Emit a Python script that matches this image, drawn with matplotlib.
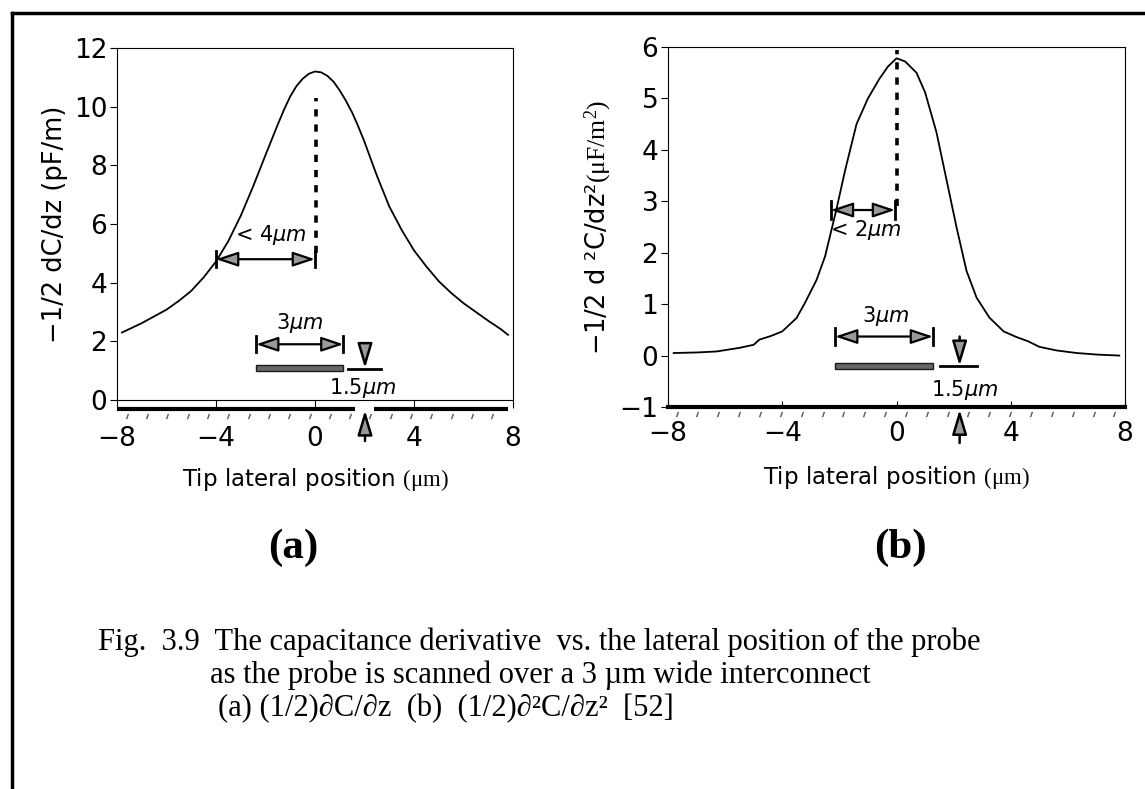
import numpy as np
import matplotlib
matplotlib.use('Agg')
import matplotlib.pyplot as plt
from matplotlib.lines import Line2D
from matplotlib.patches import Rectangle

plt.rcParams['font.family'] = ['DejaVu Sans']
plt.rcParams['mathtext.fontset'] = 'custom'
plt.rcParams['mathtext.rm'] = 'Liberation Serif'
plt.rcParams['mathtext.it'] = 'DejaVu Sans:italic'
plt.rcParams['mathtext.bf'] = 'DejaVu Sans:bold'

# (a) first derivative
xa = [-7.8, -7, -6.5, -6, -5.5, -5, -4.5, -4, -3.5, -3, -2.5, -2, -1.5, -1.25, -1, -0.75,
      -0.5, -0.25, 0, 0.25, 0.5, 0.75, 1, 1.25, 1.5, 1.75, 2, 2.25, 2.5, 3, 3.5, 4, 4.5,
      5, 5.5, 6, 6.5, 7, 7.5, 7.8]
ya = [2.30, 2.62, 2.85, 3.08, 3.38, 3.72, 4.18, 4.72, 5.42, 6.28, 7.28, 8.35, 9.4, 9.9,
      10.35, 10.7, 10.95, 11.12, 11.2, 11.17, 11.05, 10.85, 10.55, 10.2, 9.8, 9.32, 8.8,
      8.22, 7.65, 6.6, 5.8, 5.1, 4.55, 4.05, 3.65, 3.3, 3.0, 2.7, 2.42, 2.22]

# (b) second derivative
xb = [-7.8, -7, -6.3, -5.5, -5, -4.8, -4.4, -4, -3.5, -3.2, -2.8, -2.5, -2.1, -1.8, -1.4,
      -1, -0.6, -0.3, 0, 0.3, 0.7, 1, 1.4, 1.75, 2.1, 2.45, 2.8, 3.25, 3.75, 4.2, 4.6, 5,
      5.6, 6.3, 7, 7.8]
yb = [0.05, 0.06, 0.08, 0.15, 0.21, 0.31, 0.38, 0.47, 0.73, 1.03, 1.47, 1.93, 2.85, 3.6,
      4.5, 5.0, 5.38, 5.62, 5.78, 5.72, 5.5, 5.12, 4.34, 3.42, 2.5, 1.65, 1.13, 0.74,
      0.47, 0.36, 0.28, 0.17, 0.1, 0.05, 0.02, 0.0]

xticks = [-8, -4, 0, 4, 8]
yticks_a = [0, 2, 4, 6, 8, 10, 12]
yticks_b = [-1, 0, 1, 2, 3, 4, 5, 6]

# annotation geometry (data units)
peak_a, peak_b = 0.05, 0.0
width_a = (-4.0, 0.0, 4.8)          # x0, x1, y of "< 4um" arrow
width_b = (-2.3, -0.05, 2.83)
line_a = (-2.38, 1.15, 1.9, 1.08)   # x0, x1, arrow y, interconnect y
line_b = (-2.15, 1.28, 0.37, -0.2)
tip_a = (1.35, 2.66, 2.02)          # tip line x0, x1, arrow x
tip_b = (1.51, 2.82, 2.21)

W, H = 1145, 789
fig = plt.figure(figsize=(W / 100, H / 100), dpi=100)


def px_axes(l, t, r, b):
    return fig.add_axes([l / W, 1 - b / H, (r - l) / W, (b - t) / H])


ax_a = px_axes(117, 48, 513, 400)
ax_b = px_axes(668, 47, 1125, 407)

GRAY = '0.6'
TICK_FS = 19
NOTE_FS = 15


def span_arrow(ax, x0, x1, y, h):
    ax.annotate('', xy=(x1, y), xytext=(x0, y),
                arrowprops=dict(arrowstyle='<|-|>,head_length=0.9,head_width=0.3',
                                fc=GRAY, ec='black', lw=1.6, shrinkA=0, shrinkB=0,
                                mutation_scale=15))
    ax.plot([x0, x0], [y - h, y + h], 'k', lw=2)
    ax.plot([x1, x1], [y - h, y + h], 'k', lw=2)


def vert_arrow(ax, x, y0, y1, clip=True):
    ax.annotate('', xy=(x, y1), xytext=(x, y0), annotation_clip=clip,
                arrowprops=dict(arrowstyle='-|>,head_length=1.0,head_width=0.3',
                                fc=GRAY, ec='black', lw=1.8, shrinkA=0, shrinkB=0,
                                mutation_scale=15))


# ---- panel (a)
ax = ax_a
ax.plot(xa, ya, 'k', lw=1.3)
ax.set_xlim(-8, 8)
ax.set_ylim(0, 12)
ax.plot([peak_a, peak_a], [5.0, 10.3], 'k', lw=2.6, dashes=(2, 2.2))
span_arrow(ax, width_a[0], width_a[1], width_a[2], 0.28)
ax.text(-1.78, 5.63, '< 4$\\mu m$', ha='center', va='center', fontsize=NOTE_FS)
span_arrow(ax, line_a[0], line_a[1], line_a[2], 0.28)
ax.text(-0.61, 2.62, '3$\\mu m$', ha='center', va='center', fontsize=NOTE_FS)
ax.add_patch(Rectangle((line_a[0], line_a[3] - 0.1), line_a[1] - line_a[0], 0.2,
                       fc='0.4', ec='0.1', lw=1))
ax.plot([tip_a[0], tip_a[1]], [1.05, 1.05], 'k', lw=2)
vert_arrow(ax, tip_a[2], 1.94, 1.08)
ax.text(1.93, 0.4, '1.5$\\mu m$', ha='center', va='center', fontsize=NOTE_FS)
# substrate bar with a gap under the probe, and its hatching
ax.plot([-8, 1.6], [-0.3, -0.3], 'k', lw=3, clip_on=False, solid_capstyle='butt')
ax.plot([2.4, 7.8], [-0.3, -0.3], 'k', lw=3, clip_on=False, solid_capstyle='butt')
hx = np.arange(-7.6, 7.9, 0.82)
ax.plot(hx, np.full(len(hx), -0.55), ls='none', marker=(2, 0, -20), ms=4,
        mec='0.35', mew=1, clip_on=False)
vert_arrow(ax, tip_a[2], -1.4, -0.35, clip=False)
ax.set_xticks(xticks)
ax.set_xticklabels(['\u22128', '\u22124', '0', '4', '8'])
ax.set_yticks(yticks_a)
ax.tick_params(axis='x', direction='out', length=6, pad=13, labelsize=TICK_FS)
ax.tick_params(axis='y', direction='out', length=5, pad=2, labelsize=TICK_FS)
ax.set_ylabel('\u22121/2 dC/dz (pF/m)', fontsize=18.5, labelpad=4)
ax.set_xlabel('Tip lateral position $\\mathrm{(\\mu m)}$', fontsize=16.5, labelpad=10)

# ---- panel (b)
ax = ax_b
ax.plot(xb, yb, 'k', lw=1.3)
ax.set_xlim(-8, 8)
ax.set_ylim(-1, 6)
ax.plot([peak_b, peak_b], [2.9, 5.95], 'k', lw=2.6, dashes=(2, 2.2))
span_arrow(ax, width_b[0], width_b[1], width_b[2], 0.17)
ax.text(-1.07, 2.44, '< 2$\\mu m$', ha='center', va='center', fontsize=NOTE_FS)
span_arrow(ax, line_b[0], line_b[1], line_b[2], 0.17)
ax.text(-0.36, 0.77, '3$\\mu m$', ha='center', va='center', fontsize=NOTE_FS)
ax.add_patch(Rectangle((line_b[0], line_b[3] - 0.06), line_b[1] - line_b[0], 0.12,
                       fc='0.4', ec='0.1', lw=1))
ax.plot([tip_b[0], tip_b[1]], [-0.2, -0.2], 'k', lw=2)
vert_arrow(ax, tip_b[2], 0.37, -0.2)
ax.text(2.39, -0.67, '1.5$\\mu m$', ha='center', va='center', fontsize=NOTE_FS)
ax.spines['bottom'].set_linewidth(3)
hx = np.arange(-7.7, 8, 0.73)
ax.plot(hx, np.full(len(hx), -1.13), ls='none', marker=(2, 0, -20), ms=4,
        mec='0.35', mew=1, clip_on=False)
vert_arrow(ax, tip_b[2], -1.7, -1.05, clip=False)
ax.set_xticks(xticks)
ax.set_xticklabels(['\u22128', '\u22124', '0', '4', '8'])
ax.set_yticks(yticks_b)
ax.set_yticklabels(['\u22121'] + [str(v) for v in yticks_b[1:]])
ax.tick_params(axis='x', direction='in', length=4, pad=10, labelsize=TICK_FS)
ax.tick_params(axis='y', direction='out', length=5, pad=2, labelsize=TICK_FS)
ax.set_ylabel('\u22121/2 d \u00b2C/dz\u00b2$\\mathrm{(\\mu F/m^2)}$', fontsize=18.5, labelpad=4)
ax.set_xlabel('Tip lateral position $\\mathrm{(\\mu m)}$', fontsize=16.5, labelpad=12)

# panel tags and caption
fig.text(293 / W, 1 - 548 / H, '(a)', ha='center', va='center', fontsize=31,
         fontweight='bold', family='Liberation Serif')
fig.text(900 / W, 1 - 548 / H, '(b)', ha='center', va='center', fontsize=31,
         fontweight='bold', family='Liberation Serif')
cap = dict(fontsize=22, family='Liberation Serif', ha='left', va='baseline')
fig.text(98 / W, 1 - 650 / H,
         'Fig.  3.9  The capacitance derivative  vs. the lateral position of the probe', **cap)
fig.text(210 / W, 1 - 683 / H,
         'as the probe is scanned over a 3 \u00b5m wide interconnect', **cap)
fig.text(218 / W, 1 - 716 / H,
         '(a) (1/2)\u2202C/\u2202z  (b)  (1/2)\u2202\u00b2C/\u2202z\u00b2  [52]', **cap)

# page frame (top and left rules)
fig.add_artist(Line2D([12 / W, 1], [1 - 13 / H, 1 - 13 / H], color='black', lw=2.5))
fig.add_artist(Line2D([12 / W, 12 / W], [0, 1 - 13 / H], color='black', lw=2.5))

fig.savefig('out.png', dpi=100)
